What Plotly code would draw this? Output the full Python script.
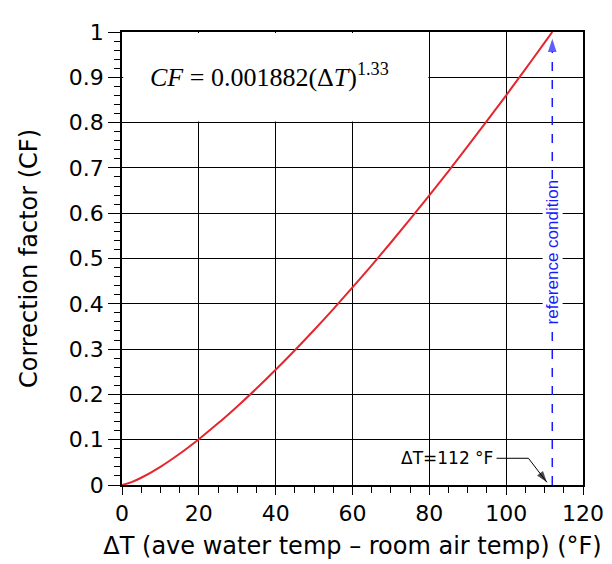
import plotly.graph_objects as go

# Data (CF vs ΔT)
delta_t = [0, 2.5, 5, 10, 15, 20, 25, 30, 35, 40, 45, 50, 55, 60, 65, 70, 75, 80, 85, 90, 95, 100, 105, 110, 112]
cf = [0.0, 0.0064, 0.016, 0.0402, 0.069, 0.1012, 0.1361, 0.1735, 0.2129, 0.2543, 0.2975, 0.3422,
      0.3884, 0.4361, 0.485, 0.5353, 0.5868, 0.6394, 0.6931, 0.7479, 0.8036, 0.8603, 0.918, 0.9766, 1.0]
ref_x = [112, 112]
ref_y = [0, 0.985]
leader_x = [97.5, 105.8, 110.6]
leader_y = [0.059, 0.059, 0.006]
x_ticks = [0, 20, 40, 60, 80, 100, 120]
y_ticks = [0, 0.1, 0.2, 0.3, 0.4, 0.5, 0.6, 0.7, 0.8, 0.9, 1.0]
y_tick_text = ["0", "0.1", "0.2", "0.3", "0.4", "0.5", "0.6", "0.7", "0.8", "0.9", "1"]

FONT = "DejaVu Sans"
BLUE = "#1a1aff"

fig = go.Figure()
fig.add_trace(go.Scatter(x=delta_t, y=cf, mode="lines", line=dict(color="#e5262d", width=2, shape="spline"),
                         hoverinfo="skip", showlegend=False))
fig.add_trace(go.Scatter(x=ref_x, y=ref_y, mode="lines+markers", line=dict(color=BLUE, width=1.5, dash="dash"),
                         marker=dict(symbol=["circle", "arrow"], size=[0, 14], angleref="previous", color=BLUE,
                                     line=dict(width=0)),
                         hoverinfo="skip", showlegend=False))
fig.add_trace(go.Scatter(x=leader_x, y=leader_y, mode="lines+markers", line=dict(color="black", width=1),
                         marker=dict(symbol=["circle", "circle", "arrow"], size=[0, 0, 12], angleref="previous",
                                     color="black", line=dict(width=0)),
                         hoverinfo="skip", showlegend=False))

# white box behind the formula (covers gridlines)
fig.add_shape(type="rect", xref="x", yref="y", x0=0.3, x1=79.75, y0=0.8025, y1=0.998,
              fillcolor="white", line=dict(width=0), layer="between")

fig.add_annotation(x=112, y=0.514, xref="x", yref="y", text="reference condition", showarrow=False,
                   textangle=-90, bgcolor="white", borderpad=0,
                   font=dict(family="Liberation Sans", size=17, color=BLUE))

fig.add_annotation(x=38.5, y=0.905, xref="x", yref="y", showarrow=False,
                   text="<i>CF</i> = 0.001882(Δ<i>T</i>)<sup>1.33</sup>",
                   font=dict(family="Liberation Serif", size=26, color="black"))

fig.add_annotation(x=84.6, y=0.059, xref="x", yref="y", showarrow=False, text="ΔT=112 °F",
                   font=dict(family=FONT, size=17, color="black"))

fig.update_xaxes(range=[0, 120], tickvals=x_ticks, showgrid=True, gridcolor="black", gridwidth=1,
                 showline=True, linecolor="black", linewidth=1.5, mirror=True,
                 ticks="outside", ticklen=8, tickcolor="black", tickwidth=1,
                 minor=dict(dtick=5, ticks="outside", ticklen=6, tickcolor="black", showgrid=False),
                 zeroline=False, tickfont=dict(family=FONT, size=22, color="black"),
                 title=dict(text="ΔT (ave water temp – room air temp) (°F)",
                            font=dict(family=FONT, size=24, color="black"), standoff=12))
fig.update_yaxes(range=[0, 1], tickvals=y_ticks, ticktext=y_tick_text, showgrid=True, gridcolor="black", gridwidth=1,
                 showline=True, linecolor="black", linewidth=1.5, mirror=True,
                 ticks="outside", ticklen=12, tickcolor="black", tickwidth=1,
                 minor=dict(dtick=0.02, ticks="outside", ticklen=6, tickcolor="black", showgrid=False),
                 zeroline=False, tickfont=dict(family=FONT, size=22, color="black"),
                 title=dict(text="Correction factor (CF)", font=dict(family=FONT, size=24, color="black"), standoff=24))

fig.update_layout(width=612, height=564, plot_bgcolor="white", paper_bgcolor="white",
                  margin=dict(l=114, r=37, t=16, b=87), showlegend=False)

fig.write_html("out.html")
